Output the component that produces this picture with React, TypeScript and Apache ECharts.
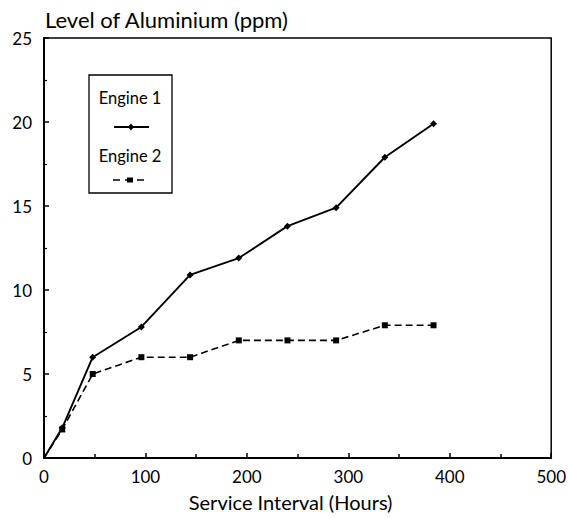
import React, { useEffect, useRef } from "react";
import * as echarts from "echarts";

const hours = [0, 18, 48, 96, 144, 192, 240, 288, 336, 384];
const engine1 = [0, 1.8, 6, 7.8, 10.9, 11.9, 13.8, 14.9, 17.9, 19.9];
const engine2 = [0, 1.7, 5, 6, 6, 7, 7, 7, 7.9, 7.9];
const legendNames = ["Engine 1", "Engine 2"];

const FONT = "Lato, 'Open Sans', sans-serif";

export default function App() {
  const ref = useRef<HTMLDivElement>(null);
  useEffect(() => {
    if (!ref.current) return;
    const chart = echarts.init(ref.current, undefined, { renderer: "svg" });
    const mk = (ys: number[]) =>
      hours.map((h, i) => ({
        value: [h, ys[i]],
        symbolSize: i === 0 ? 0 : undefined,
      }));
    chart.setOption({
      animation: false,
      backgroundColor: "#fff",
      textStyle: { fontFamily: FONT, color: "#000" },
      grid: {
        left: 44,
        right: 15,
        top: 38,
        bottom: 60,
        show: true,
        borderColor: "#000",
        borderWidth: 1.5,
      },
      title: {
        text: "Level of Aluminium (ppm)",
        left: 40,
        top: 3,
        textStyle: { fontFamily: FONT, fontSize: 22, fontWeight: "normal", color: "#000" },
      },
      xAxis: {
        type: "value",
        min: 0,
        max: 500,
        interval: 100,
        name: "Service Interval (Hours)",
        nameLocation: "middle",
        nameGap: 34,
        nameTextStyle: { fontFamily: FONT, fontSize: 20, color: "#000", padding: [0, 14, 0, 0] },
        axisLine: { show: true, lineStyle: { color: "#000", width: 2 } },
        axisTick: { show: true, inside: true, length: 5, lineStyle: { color: "#000", width: 1.5 } },
        minorTick: { show: true, splitNumber: 2, length: 4, lineStyle: { color: "#000", width: 1.5 } },
        axisLabel: { fontFamily: FONT, fontSize: 17, color: "#000", margin: 10 },
        splitLine: { show: false },
      },
      yAxis: {
        type: "value",
        min: 0,
        max: 25,
        interval: 5,
        axisLine: { show: true, lineStyle: { color: "#000", width: 2 } },
        axisTick: { show: true, inside: true, length: 5, lineStyle: { color: "#000", width: 1.5 } },
        minorTick: { show: true, splitNumber: 2, length: 3, lineStyle: { color: "#000", width: 1.2 } },
        axisLabel: { fontFamily: FONT, fontSize: 17, color: "#000", margin: 12 },
        splitLine: { show: false },
      },
      series: [
        {
          name: legendNames[0],
          type: "line",
          data: mk(engine1),
          symbol: "diamond",
          symbolSize: 7,
          lineStyle: { color: "#000", width: 1.9 },
          itemStyle: { color: "#000" },
        },
        {
          name: legendNames[1],
          type: "line",
          data: mk(engine2),
          symbol: "rect",
          symbolSize: 6,
          lineStyle: { color: "#000", width: 1.6, type: [7, 4] },
          itemStyle: { color: "#000" },
        },
      ],
      graphic: [
        {
          type: "rect",
          shape: { x: 89, y: 75, width: 83, height: 118 },
          style: { fill: "#fff", stroke: "#000", lineWidth: 1.3 },
        },
        {
          type: "text",
          x: 130,
          y: 98,
          style: {
            text: legendNames[0],
            fontFamily: FONT,
            fontSize: 16.5,
            fill: "#000",
            align: "center",
            verticalAlign: "middle",
          },
        },
        {
          type: "line",
          shape: { x1: 114, y1: 127, x2: 149, y2: 127 },
          style: { stroke: "#000", lineWidth: 1.8 },
        },
        {
          type: "polygon",
          shape: { points: [[131, 123.5], [134, 127], [131, 130.5], [128, 127]] },
          style: { fill: "#000" },
        },
        {
          type: "text",
          x: 130,
          y: 156,
          style: {
            text: legendNames[1],
            fontFamily: FONT,
            fontSize: 16.5,
            fill: "#000",
            align: "center",
            verticalAlign: "middle",
          },
        },
        {
          type: "line",
          shape: { x1: 113, y1: 180, x2: 146, y2: 180 },
          style: { stroke: "#000", lineWidth: 1.6, lineDash: [7, 5] },
        },
        {
          type: "rect",
          shape: { x: 127, y: 177.5, width: 6, height: 5 },
          style: { fill: "#000" },
        },
      ],
    });
    return () => chart.dispose();
  }, []);
  return (
    <div
      ref={ref}
      style={{ position: "fixed", left: 0, top: 0, width: 569, height: 518 }}
    />
  );
}
